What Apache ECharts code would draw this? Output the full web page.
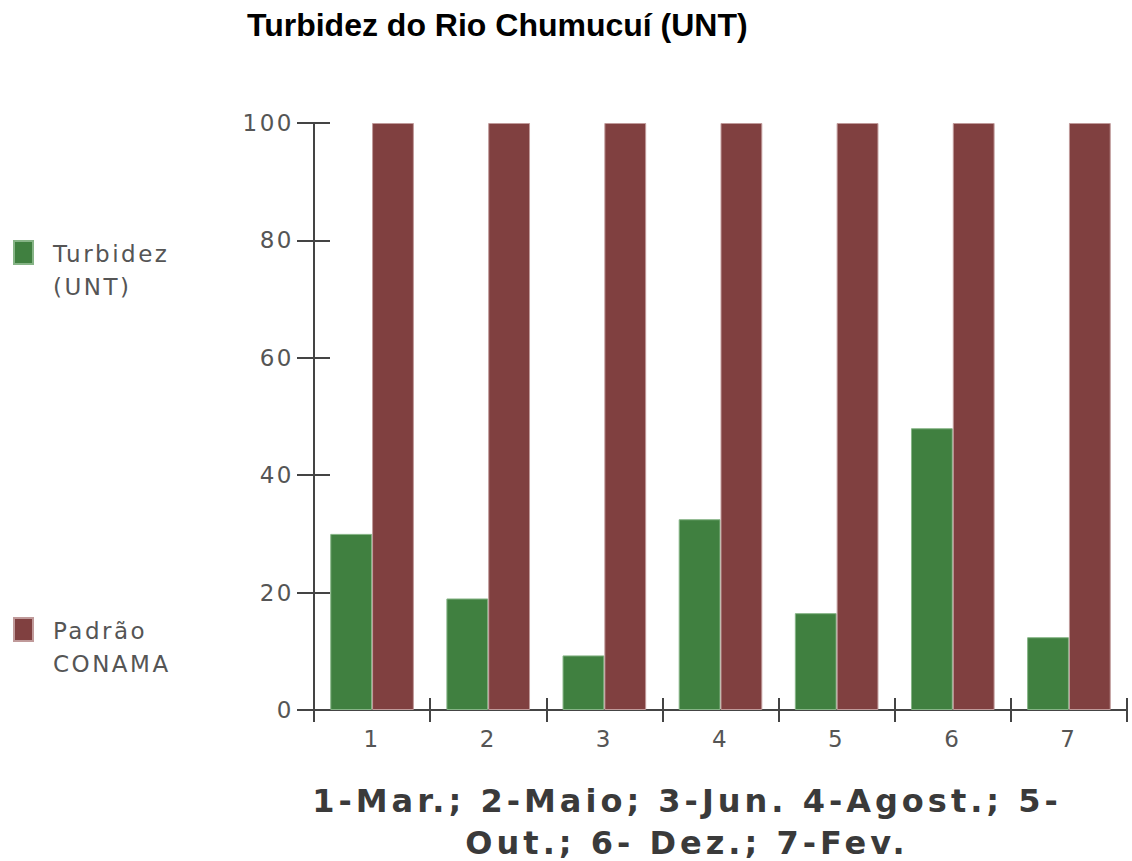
<!DOCTYPE html>
<html>
<head>
<meta charset="utf-8">
<script src="https://cdn.jsdelivr.net/npm/echarts@6/dist/echarts.min.js"></script>
<style>
  html, body { margin: 0; padding: 0; background: #ffffff; }
  #chart { width: 1132px; height: 861px; }
  /* spaced-out lettering for the DejaVu texts (axis labels, legend, footnote) */
  #chart text[style*="DejaVu"] { letter-spacing: 2.5px; }
  #chart text[style*="DejaVu"][style*="bold"] { letter-spacing: 4px; }
</style>
</head>
<body>
<div id="chart"></div>
<script>
// Sampling campaigns (1..7) and measured values
const categories = ['1', '2', '3', '4', '5', '6', '7'];
const turbidez = [30, 19, 9.3, 32.5, 16.5, 48, 12.4];
const padraoConama = [100, 100, 100, 100, 100, 100, 100];
const yTicks = { min: 0, max: 100, interval: 20 };

const titleText = 'Turbidez do Rio Chumucuí (UNT)';
const seriesNames = ['Turbidez\n(UNT)', 'Padrão\nCONAMA'];
const footnote = '1-Mar.; 2-Maio; 3-Jun. 4-Agost.; 5-\nOut.; 6- Dez.; 7-Fev.';

const axisColor = '#444444';
const labelColor = '#555555';
const green = '#408040';
const red = '#804040';

const chart = echarts.init(document.getElementById('chart'), null, { renderer: 'svg' });

// legend labels: two lines, the first one level with the colour swatch
const legendText = {
  padding: [36, 0, 0, 15],
  rich: {
    t: {
      fontFamily: 'DejaVu Sans',
      fontSize: 23,
      color: labelColor,
      lineHeight: 33
    }
  }
};
const legendFormatter = name => name.split('\n').map(s => '{t|' + s + '}').join('\n');

chart.setOption({
  backgroundColor: '#ffffff',
  animation: false,
  title: {
    text: titleText,
    left: 247,
    top: 9,
    padding: 0,
    textStyle: {
      fontFamily: 'Liberation Sans',
      fontWeight: 'bold',
      fontSize: 32,
      color: '#000000'
    }
  },
  legend: [
    {
      data: [seriesNames[0]],
      orient: 'vertical',
      left: 13,
      top: 240,
      padding: 0,
      icon: 'rect',
      itemWidth: 19,
      itemHeight: 23,
      selectedMode: false,
      formatter: legendFormatter,
      textStyle: legendText
    },
    {
      data: [seriesNames[1]],
      orient: 'vertical',
      left: 13,
      top: 617,
      padding: 0,
      icon: 'rect',
      itemWidth: 19,
      itemHeight: 23,
      selectedMode: false,
      formatter: legendFormatter,
      textStyle: legendText
    }
  ],
  grid: {
    left: 314,
    right: 5,
    top: 123,
    bottom: 151,
    containLabel: false
  },
  xAxis: [
    {
      type: 'category',
      data: categories,
      axisLine: { show: true, lineStyle: { color: axisColor, width: 2 } },
      axisTick: { show: true, length: 12, lineStyle: { color: axisColor, width: 2 } },
      axisLabel: {
        margin: 17,
        fontFamily: 'DejaVu Sans',
        fontSize: 23,
        color: labelColor
      },
      splitLine: { show: false }
    },
    {
      type: 'category',
      data: categories,
      position: 'bottom',
      axisLine: { show: false },
      axisTick: { show: true, inside: true, length: 12, lineStyle: { color: axisColor, width: 2 } },
      axisLabel: { show: false },
      splitLine: { show: false }
    }
  ],
  yAxis: [
    {
      type: 'value',
      min: yTicks.min,
      max: yTicks.max,
      interval: yTicks.interval,
      axisLine: { show: true, lineStyle: { color: axisColor, width: 2 } },
      axisTick: { show: true, length: 17, lineStyle: { color: axisColor, width: 2 } },
      axisLabel: {
        margin: 20,
        fontFamily: 'DejaVu Sans',
        fontSize: 23,
        color: labelColor
      },
      splitLine: { show: false }
    },
    {
      type: 'value',
      position: 'left',
      min: yTicks.min,
      max: yTicks.max,
      interval: yTicks.interval,
      axisLine: { show: false },
      axisTick: { show: true, inside: true, length: 16, lineStyle: { color: axisColor, width: 2 } },
      axisLabel: { show: false },
      splitLine: { show: false }
    }
  ],
  series: [
    {
      name: seriesNames[0],
      type: 'bar',
      xAxisIndex: 0,
      yAxisIndex: 0,
      data: turbidez,
      barGap: '0%',
      barCategoryGap: '28%',
      itemStyle: { color: green, borderColor: '#86b486', borderWidth: 1 }
    },
    {
      name: seriesNames[1],
      type: 'bar',
      xAxisIndex: 0,
      yAxisIndex: 0,
      data: padraoConama,
      barGap: '0%',
      barCategoryGap: '28%',
      itemStyle: { color: red, borderColor: '#c09a9a', borderWidth: 1 }
    }
  ],
  graphic: [
    {
      type: 'text',
      style: {
        x: 687,
        y: 822,
        text: footnote,
        fontFamily: 'DejaVu Sans',
        fontWeight: 'bold',
        fontSize: 32,
        lineHeight: 42,
        fill: '#3a3a3a',
        textAlign: 'center',
        textVerticalAlign: 'middle'
      }
    }
  ]
});
</script>
</body>
</html>
